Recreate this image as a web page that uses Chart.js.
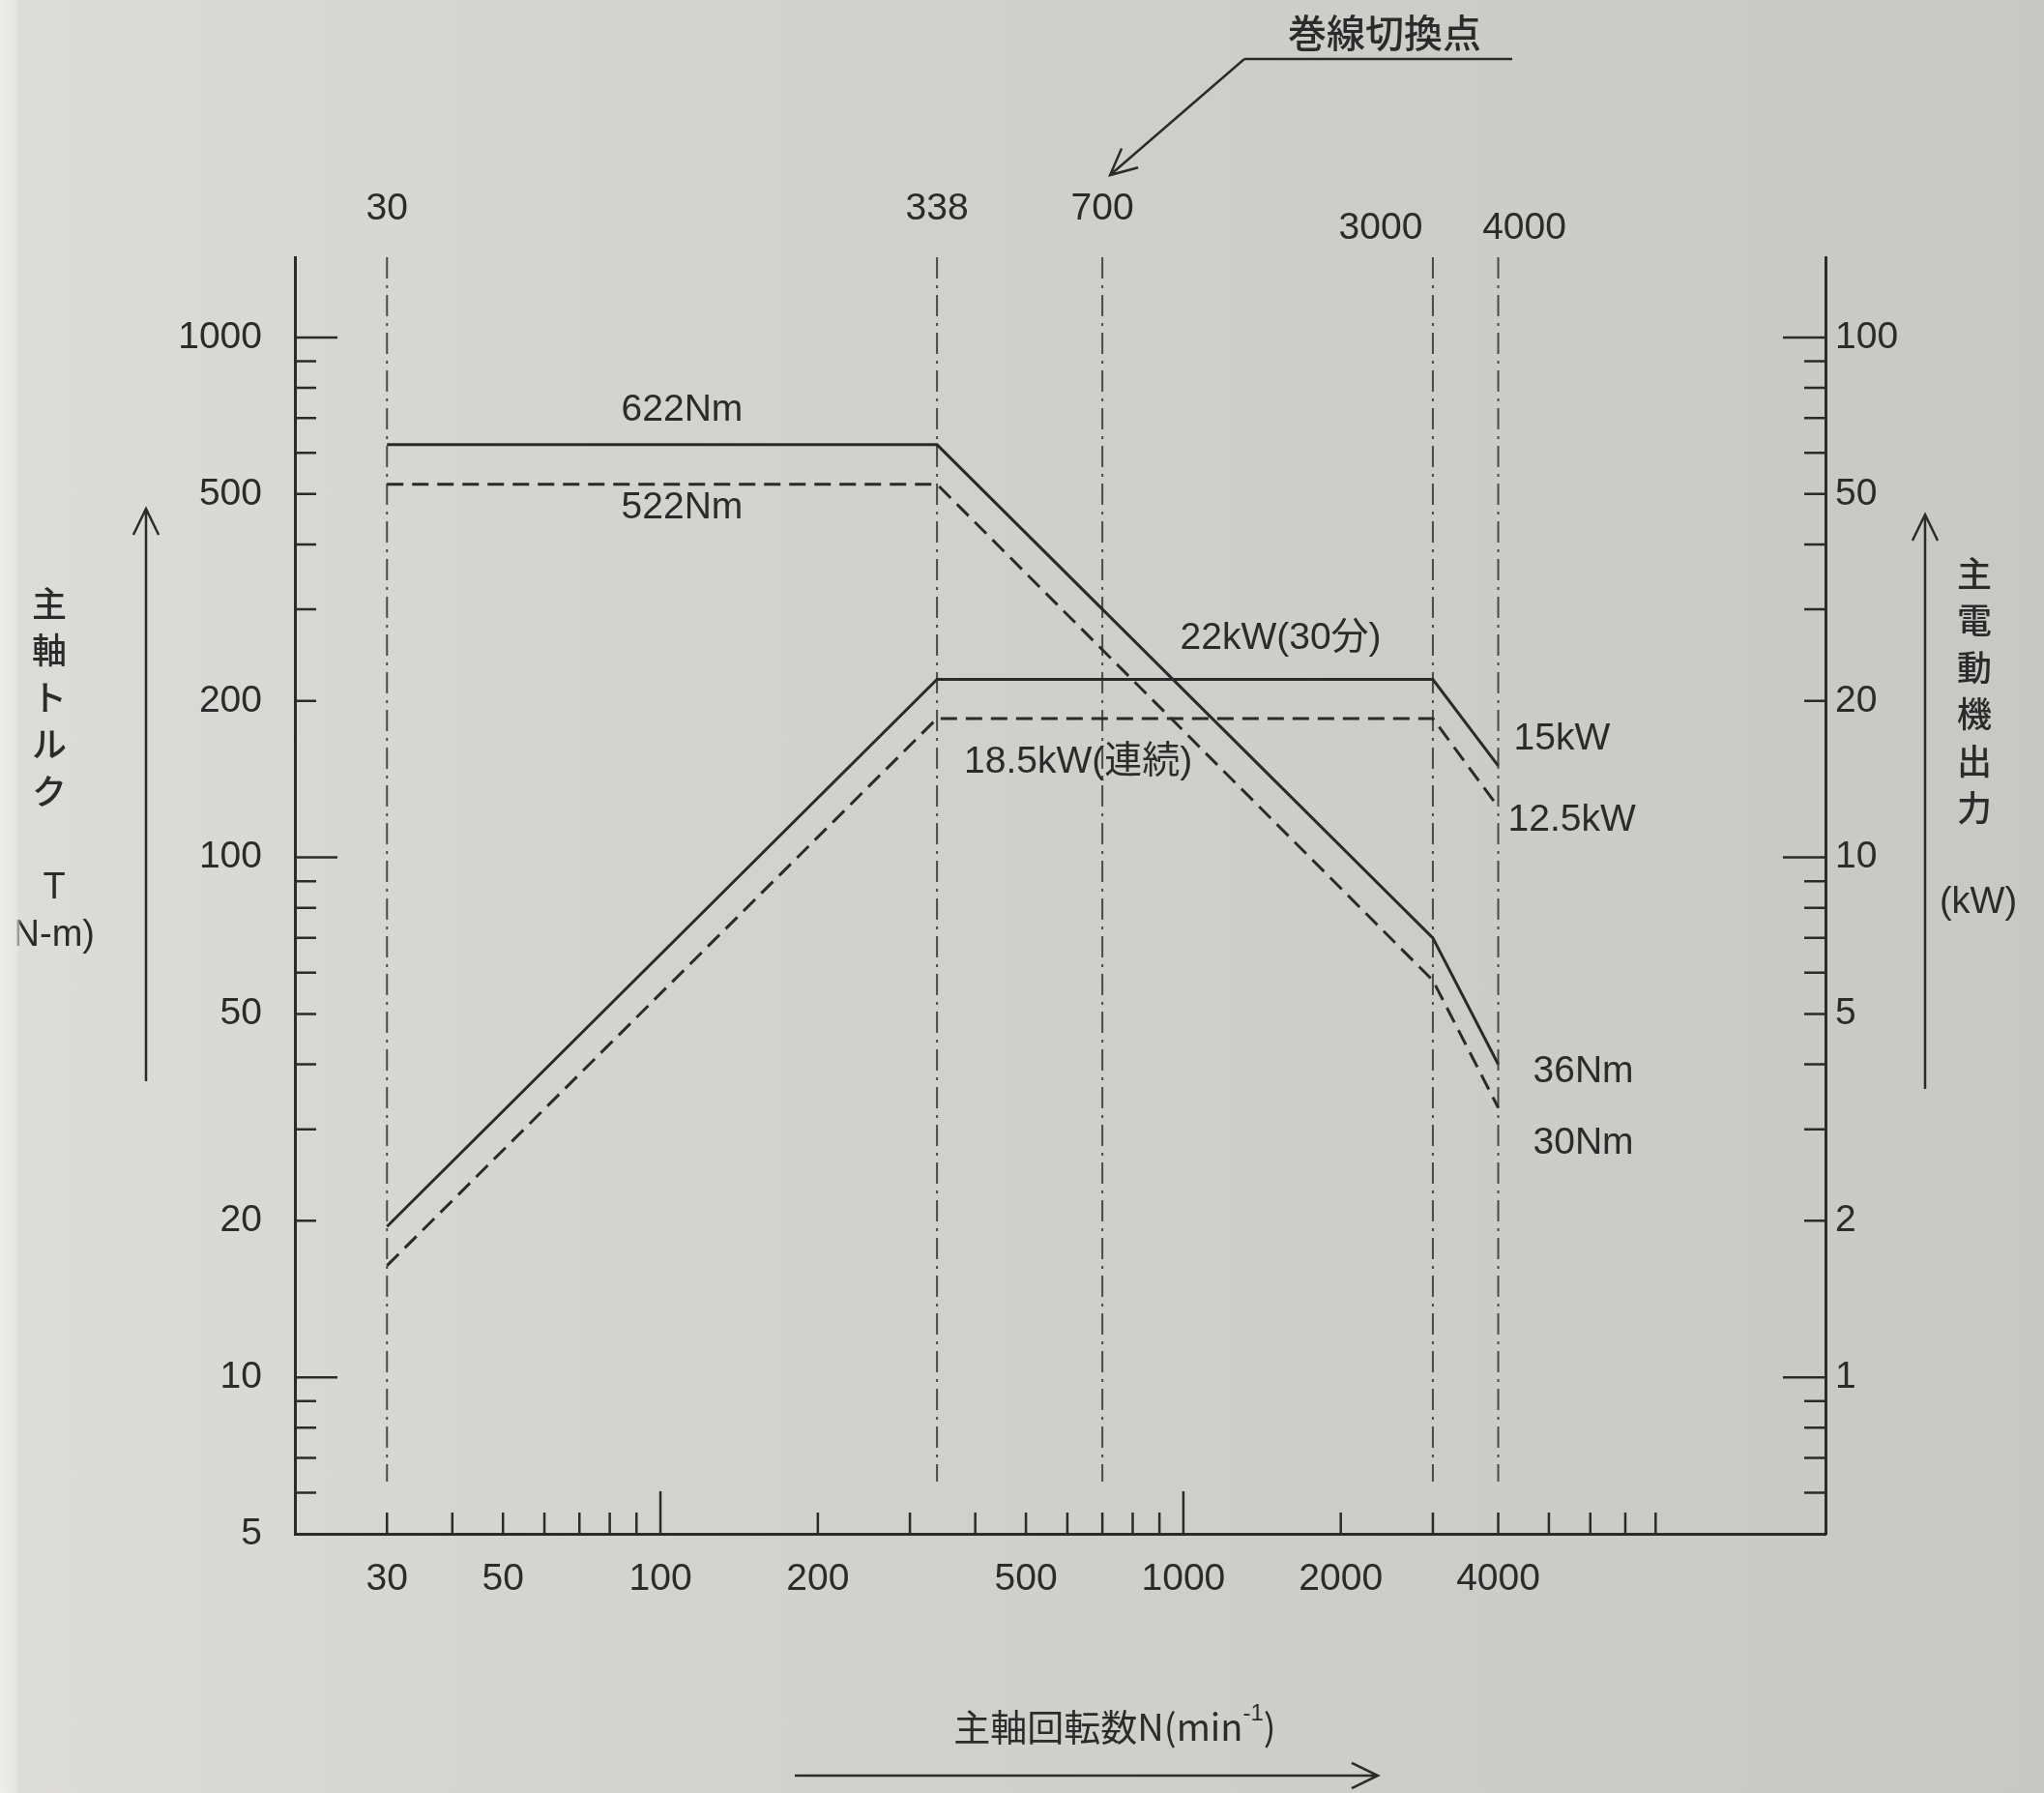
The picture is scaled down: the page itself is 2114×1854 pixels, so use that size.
<!DOCTYPE html>
<html lang="ja">
<head>
<meta charset="utf-8">
<title>主軸出力・トルク線図</title>
<script src="https://cdn.jsdelivr.net/npm/chart.js@4.4.1/dist/chart.umd.min.js"></script>
<style>
  html, body { margin: 0; padding: 0; }
  body {
    width: 2114px; height: 1854px; overflow: hidden;
    background: linear-gradient(90deg, #dddcd8 0%, #d3d3cf 30%, #cdcdc9 65%, #c8c8c4 100%);
  }
  canvas { display: block; }
</style>
</head>
<body>
<canvas id="chart" width="2114" height="1854"></canvas>
<script>
// 主軸回転数 (min-1) の折れ点
const speedPoints = [30, 338, 3000, 4000];
// 主軸トルク (N·m) : 30分定格 / 連続定格
const torque30min = [622, 622, 70, 40];
const torqueCont = [522, 522, 58, 33];
// 主電動機出力 (kW) : 30分定格 / 連続定格
const power30min = [1.95, 22, 22, 15];
const powerCont = [1.64, 18.5, 18.5, 12.5];
// 縦の一点鎖線の位置
const markerSpeeds = [30, 338, 700, 3000, 4000];
// 目盛ラベル
const speedTickLabels = [30, 50, 100, 200, 500, 1000, 2000, 4000];
const torqueTickLabels = [5, 10, 20, 50, 100, 200, 500, 1000];
const powerTickLabels = [1, 2, 5, 10, 20, 50, 100];
// 軸の範囲
const speedRange = [20, 16900];
const torqueRange = [5, 1427];
const powerRange = [0.5, 142.7];
const markerBottom = 6.3;

const INK = '#2b2b2b';
const LATIN = '"Liberation Sans", Arial, "Noto Sans CJK JP", sans-serif';
const JP = '"Noto Sans CJK JP", "Liberation Sans", sans-serif';

const toXY = (xs, ys) => xs.map((x, i) => ({ x: x, y: ys[i] }));

// ログ目盛の 1〜9 の位置かどうか (戻り値: 仮数, 0 なら対象外)
function logStep(v) {
    const e = Math.floor(Math.log10(v) + 1e-9);
    const m = v / Math.pow(10, e);
    return Math.abs(m - Math.round(m)) < 1e-6 ? Math.round(m) : 0;
}

function labelFor(list) {
    return function (value) {
        const hit = list.find(l => Math.abs(l - value) / l < 1e-6);
        return hit === undefined ? '' : String(hit);
    };
}

function arrow(ctx, x1, y1, x2, y2, head) {
    const ang = Math.atan2(y2 - y1, x2 - x1);
    ctx.beginPath();
    ctx.moveTo(x1, y1);
    ctx.lineTo(x2, y2);
    ctx.moveTo(x2 - head * Math.cos(ang - 0.45), y2 - head * Math.sin(ang - 0.45));
    ctx.lineTo(x2, y2);
    ctx.lineTo(x2 - head * Math.cos(ang + 0.45), y2 - head * Math.sin(ang + 0.45));
    ctx.stroke();
}

// 目盛(内向き)・注記・軸タイトルを描くプラグイン
const decor = {
    id: 'decor',
    afterDraw(chart) {
        const { ctx, chartArea: a, scales } = chart;
        const xs = scales.x, yl = scales.y, yr = scales.y1;
        ctx.save();
        ctx.strokeStyle = INK;
        ctx.fillStyle = INK;

        // 内向きの目盛線
        ctx.lineWidth = 2.5;
        const inward = (scale, lo, hi, draw) => {
            scale.ticks.forEach(t => {
                const v = t.value;
                if (v < lo * 0.999 || v > hi * 1.001) return;
                const m = logStep(v);
                if (!m) return;
                draw(scale.getPixelForValue(v), m === 1 ? 44 : 22);
            });
        };
        ctx.beginPath();
        inward(xs, 30, 8000, (p, len) => { ctx.moveTo(p, a.bottom); ctx.lineTo(p, a.bottom - len); });
        inward(yl, 6, 1000, (p, len) => { ctx.moveTo(a.left, p); ctx.lineTo(a.left + len, p); });
        inward(yr, 0.6, 100, (p, len) => { ctx.moveTo(a.right, p); ctx.lineTo(a.right - len, p); });
        ctx.stroke();

        // 一点鎖線の上の回転数
        ctx.font = '39px ' + LATIN;
        ctx.textAlign = 'center';
        ctx.textBaseline = 'middle';
        const topShift = [0, 0, 0, -54, 27];
        const topY = [216, 216, 216, 236, 236];
        markerSpeeds.forEach((v, i) => {
            ctx.fillText(String(v), xs.getPixelForValue(v) + topShift[i], topY[i]);
        });

        // 曲線の注記
        const notes = [
            { text: '622Nm', x: 110, y: 622, axis: yl, dx: 0, dy: -36, align: 'center' },
            { text: '522Nm', x: 110, y: 522, axis: yl, dx: 0, dy: 24, align: 'center' },
            { text: '22kW(30分)', x: 1535, y: 22, axis: yr, dx: 0, dy: -42, align: 'center' },
            { text: '18.5kW(連続)', x: 338, y: 18.5, axis: yr, dx: 28, dy: 45, align: 'left' },
            { text: '15kW', x: 4000, y: 15, axis: yr, dx: 16, dy: -28, align: 'left' },
            { text: '12.5kW', x: 4000, y: 12.5, axis: yr, dx: 10, dy: 14, align: 'left' },
            { text: '36Nm', x: 4000, y: 40, axis: yl, dx: 36, dy: 8, align: 'left' },
            { text: '30Nm', x: 4000, y: 33, axis: yl, dx: 36, dy: 37, align: 'left' }
        ];
        notes.forEach(n => {
            ctx.textAlign = n.align;
            ctx.fillText(n.text, xs.getPixelForValue(n.x) + n.dx, n.axis.getPixelForValue(n.y) + n.dy);
        });

        // 巻線切換点
        ctx.textAlign = 'center';
        ctx.font = '500 40px ' + JP;
        ctx.fillText('巻線切換点', 1432, 34);
        ctx.lineWidth = 2.5;
        ctx.beginPath();
        ctx.moveTo(1564, 61);
        ctx.lineTo(1287, 61);
        ctx.stroke();
        arrow(ctx, 1287, 61, xs.getPixelForValue(700) + 8, 181, 30);

        // 左の軸タイトル
        ctx.font = '500 36px ' + JP;
        Array.from('主軸トルク').forEach((ch, i) => ctx.fillText(ch, 51, 624 + i * 48.5));
        ctx.font = '38px ' + LATIN;
        ctx.fillText('T', 56, 919);
        ctx.textAlign = 'right';
        ctx.fillText('(N-m)', 98, 968);
        ctx.lineWidth = 2.5;
        arrow(ctx, 151, 1118, 151, 526, 30);

        // 紙の端 (左の明るい帯)
        const edge = ctx.createLinearGradient(0, 0, 22, 0);
        edge.addColorStop(0, '#eeeeea');
        edge.addColorStop(0.75, '#e6e6e1');
        edge.addColorStop(1, 'rgba(221,220,216,0)');
        ctx.fillStyle = edge;
        ctx.fillRect(0, 0, 22, 1854);
        ctx.fillStyle = INK;

        // 右の軸タイトル
        ctx.textAlign = 'center';
        ctx.font = '500 36px ' + JP;
        Array.from('主電動機出力').forEach((ch, i) => ctx.fillText(ch, 2042, 593 + i * 48.5));
        ctx.font = '38px ' + LATIN;
        ctx.fillText('(kW)', 2046, 934);
        arrow(ctx, 1991, 1126, 1991, 532, 30);

        // 下の軸タイトル (上付き -1)
        const main = '主軸回転数N(min';
        ctx.font = '38px ' + JP;
        const w1 = ctx.measureText(main).width;
        ctx.font = '24px ' + LATIN;
        const w2 = ctx.measureText('-1').width;
        ctx.font = '38px ' + JP;
        const w3 = ctx.measureText(')').width;
        const x0 = 1153 - (w1 + w2 + w3) / 2;
        ctx.textAlign = 'left';
        ctx.fillText(main, x0, 1786);
        ctx.font = '24px ' + LATIN;
        ctx.fillText('-1', x0 + w1, 1772);
        ctx.font = '38px ' + JP;
        ctx.fillText(')', x0 + w1 + w2, 1786);
        arrow(ctx, 822, 1836, 1425, 1836, 30);

        ctx.restore();
    }
};

const solid = { borderColor: '#2a2a2a', borderWidth: 3, pointRadius: 0, fill: false, tension: 0 };
const dashed = { borderColor: '#2a2a2a', borderWidth: 3, borderDash: [17, 9], pointRadius: 0, fill: false, tension: 0 };

const datasets = [
    Object.assign({ label: 'トルク 30分', data: toXY(speedPoints, torque30min), yAxisID: 'y' }, solid),
    Object.assign({ label: 'トルク 連続', data: toXY(speedPoints, torqueCont), yAxisID: 'y' }, dashed),
    Object.assign({ label: '出力 30分', data: toXY(speedPoints, power30min), yAxisID: 'y1' }, solid),
    Object.assign({ label: '出力 連続', data: toXY(speedPoints, powerCont), yAxisID: 'y1' }, dashed)
];
markerSpeeds.forEach(v => {
    datasets.push({
        label: 'N=' + v,
        data: [{ x: v, y: torqueRange[1] }, { x: v, y: markerBottom }],
        yAxisID: 'y',
        borderColor: '#4a4a4a',
        borderWidth: 2,
        borderDash: [22, 7, 3, 7],
        pointRadius: 0,
        fill: false
    });
});

const tickFont = { family: LATIN, size: 39 };
const axisBorder = { display: true, color: INK, width: 3 };

new Chart(document.getElementById('chart'), {
    type: 'line',
    data: { datasets: datasets },
    options: {
        responsive: false,
        animation: false,
        layout: { padding: { top: 266, left: 0, right: 0, bottom: 0 } },
        plugins: {
            legend: { display: false },
            tooltip: { enabled: false },
            title: { display: false }
        },
        scales: {
            x: {
                type: 'logarithmic',
                position: 'bottom',
                min: speedRange[0],
                max: speedRange[1],
                grid: { display: false, drawTicks: false },
                border: axisBorder,
                ticks: {
                    autoSkip: false,
                    maxRotation: 0,
                    padding: 24,
                    color: INK,
                    font: tickFont,
                    callback: labelFor(speedTickLabels)
                },
                afterFit: s => { s.height = 268; }
            },
            y: {
                type: 'logarithmic',
                position: 'left',
                min: torqueRange[0],
                max: torqueRange[1],
                grid: { display: false, drawTicks: false },
                border: axisBorder,
                ticks: {
                    autoSkip: false,
                    padding: 34,
                    color: INK,
                    font: tickFont,
                    callback: labelFor(torqueTickLabels)
                },
                afterFit: s => { s.width = 305; }
            },
            y1: {
                type: 'logarithmic',
                position: 'right',
                min: powerRange[0],
                max: powerRange[1],
                grid: { display: false, drawTicks: false },
                border: axisBorder,
                ticks: {
                    autoSkip: false,
                    padding: 10,
                    color: INK,
                    font: tickFont,
                    callback: labelFor(powerTickLabels)
                },
                afterFit: s => { s.width = 226; }
            }
        }
    },
    plugins: [decor]
});
</script>
</body>
</html>
